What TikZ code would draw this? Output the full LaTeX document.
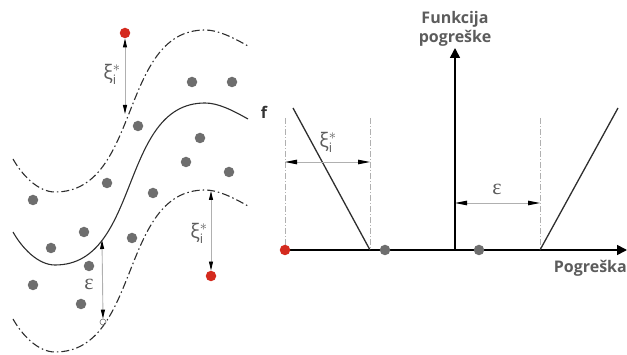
\documentclass[tikz,border=0pt]{standalone}
\usepackage{fontspec}
\setmainfont{Open Sans}
\newfontfamily\epsfont{Liberation Serif}
\usetikzlibrary{arrows.meta}
\definecolor{dotgray}{HTML}{6E6E6E}
\definecolor{dotred}{HTML}{D42A1E}
\definecolor{txtgray}{HTML}{5C5C5C}
\definecolor{dimgray}{HTML}{B0B0B0}
\definecolor{curvecol}{HTML}{2E2E2E}
\begin{document}
\begin{tikzpicture}[x=1pt,y=-1pt,
  curvesolid/.style={curvecol, line width=1.1pt},
  curvedash/.style={curvecol, line width=1.1pt, dash pattern=on 8pt off 3pt on 1.5pt off 3pt},
  dimarrow/.style={dimgray, line width=0.9pt, {Triangle[length=9pt,width=4pt,color=black]}-{Triangle[length=9pt,width=4pt,color=black]}},
  dimarrowb/.style={dimgray, line width=0.9pt, {Triangle[length=12pt,width=4.5pt,color=black]}-{Triangle[length=12pt,width=4.5pt,color=black]}},
  guide/.style={dimgray, line width=0.8pt, dash pattern=on 6pt off 2pt on 1pt off 2pt},
  axis/.style={black, line width=1.6pt},
  vline/.style={curvecol, line width=1.3pt},
  gdot/.style={circle, fill=dotgray, inner sep=0pt, minimum size=10.5pt},
  rdot/.style={circle, fill=dotred, inner sep=0pt, minimum size=10.5pt},
  odot/.style={circle, draw=dotgray, line width=0.6pt, inner sep=0pt, minimum size=6pt},
  lbl/.style={text=txtgray, font=\fontsize{16}{19}\selectfont\bfseries, inner sep=0pt},
  sym/.style={text=txtgray, font=\fontsize{20}{22}\selectfont, inner sep=0pt},
  eps/.style={text=txtgray, font=\fontsize{22}{22}\selectfont\epsfont, inner sep=0pt}
]
\useasboundingbox (0,0) rectangle (627,355);

% ---------- left panel: curves ----------
\def\sig{(13,232) .. controls (22,248) and (38,265) .. (55,265)
  .. controls (141,265) and (119,103) .. (205,103)
  .. controls (218,103) and (232,110) .. (248,119)}
\draw[curvedash, shift={(0,-73)}] \sig;
\draw[curvesolid] \sig;
\draw[curvedash, shift={(0,87)}] \sig;

% arrow ends on curves
\coordinate (u1) at (125,114);
\coordinate (l1) at (211,191);
\coordinate (m1) at (102,240);

% points
\node[rdot] (r1) at (125,33) {};
\node[rdot] (r2) at (211,276) {};
\node[odot] (o1) at (103,322) {};

\draw[dimarrow] (r1) -- (u1);
\draw[dimarrow] (l1) -- (r2);
\draw[dimarrow] (m1) -- (o1.north);

\node[sym] (xa) at (112,74) {ξ$_{\mbox{\fontsize{13}{13}\selectfont i}}^{*}$};
\node[sym] (xb) at (199,233) {ξ$_{\mbox{\fontsize{13}{13}\selectfont i}}^{*}$};
\node[eps] (ea) at (89,284) {ε};

\foreach \n/\x/\y in {g1/192/82, g2/232/82, g3/138/126, g4/200/138, g5/186/162,
  g6/229/172, g7/107/183, g8/153/193, g9/33/200, g10/84/232, g11/132/238,
  g12/51/248, g13/89/266, g14/33/285, g15/81/304}
  \node[gdot] (\n) at (\x,\y) {};

% ---------- right panel ----------
\coordinate (o) at (455,250);
\coordinate (xend) at (627,250);
\coordinate (ytop) at (455,48);
\coordinate (xstart) at (285,250);

\draw[guide] (285,118) coordinate (ga) -- (xstart);
\draw[guide] (370,118) coordinate (gb) -- (370,250);
\draw[guide] (540,118) coordinate (gc) -- (540,250);

\draw[axis, -{Triangle[length=10pt,width=10pt]}] (xstart) -- (xend);
\draw[axis, -{Triangle[length=10pt,width=10pt]}] (o) -- (ytop);

\coordinate (va) at (293,108);
\coordinate (vb) at (370,250);
\coordinate (vc) at (540,250);
\coordinate (vd) at (618,108);
\draw[vline] (va) -- (vb);
\draw[vline] (vc) -- (vd);

\coordinate (da) at (285,162);
\coordinate (db) at (370,162);
\draw[dimarrowb] (da) -- (db);
\coordinate (dc) at (455,203);
\coordinate (dd) at (540,203);
\draw[dimarrowb] (dc) -- (dd);

\node[sym] (xc) at (328,142) {ξ$_{\mbox{\fontsize{13}{13}\selectfont i}}^{*}$};
\node[eps] (eb) at (497,189) {ε};

\node[rdot] (r3) at (285,250) {};
\node[gdot] (g16) at (385,250) {};
\node[gdot] (g17) at (479,250) {};

\node[lbl, text=black!80] (f) at (264,112) {f};
\node[lbl, align=center] (fp) at (455,29) {Funkcija\\pogreške};
\node[lbl, anchor=east] (pg) at (627,268) {Pogreška};
\end{tikzpicture}
\end{document}
